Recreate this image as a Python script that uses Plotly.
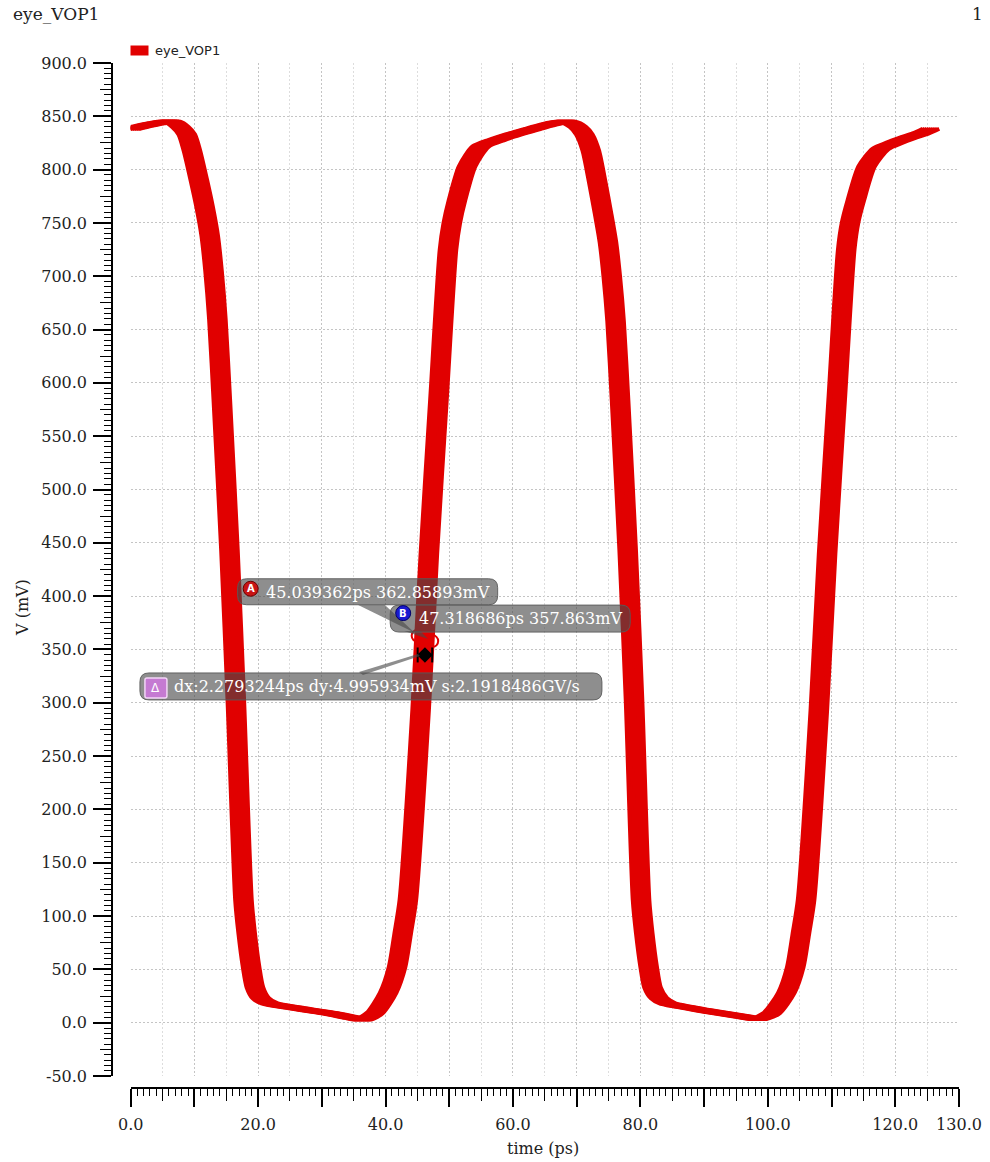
import plotly.graph_objects as go

# ---------------------------------------------------------------------------
# eye_VOP1 : centre of the overlaid eye traces (time in ps, voltage in mV)
# ---------------------------------------------------------------------------
time_ps = [
    0.0, 2.0, 4.0, 6.5, 7.8, 8.8, 9.6, 10.7, 11.6, 12.4, 13.0, 13.6, 14.3,
    15.5, 16.5, 17.7, 18.2, 18.9, 19.5, 20.4, 21.8, 26.1, 31.3, 34.9, 36.5,
    38.3, 40.4, 41.8, 42.7, 43.5, 45.5, 46.8, 48.3, 49.8, 50.4, 51.2, 52.8,
    54.9, 57.5, 60.1, 63.0, 65.4, 68.5, 70.2, 71.2, 72.2, 73.2, 74.1, 74.9,
    75.5, 76.1, 76.8, 78.0, 79.0, 80.1, 80.6, 81.3, 81.9, 82.9, 84.3, 85.8,
    91.0, 96.2, 98.5, 100.6, 102.9, 104.3, 105.2, 106.0, 108.0, 109.3, 110.8,
    112.3, 112.9, 113.8, 115.5, 117.7, 119.8, 121.9, 124.0, 125.6,
]
vop1_mv = [
    838, 841, 843.5, 845, 840, 833, 818, 790, 765, 738, 705, 660, 584,
    443, 302, 115, 84, 52, 33, 23, 18, 13.5, 8.8, 4.5, 3,
    9, 28, 52, 84, 115, 293, 440, 584, 725, 750, 771, 803,
    821.6, 828, 833, 838, 842, 845, 840, 833, 818, 789, 760, 732,
    700, 658, 584, 443, 302, 115, 84, 52, 33, 23, 18, 16,
    10.5, 5.5, 3.5, 9, 28, 52, 84, 115, 293, 440, 584,
    725, 750, 771, 803, 819.5, 825, 829.7, 834, 838.4,
]
# timing offsets of the individual overlaid traces (ps)
jitter_ps = [-1.3, -0.975, -0.65, -0.325, 0.0, 0.325, 0.65, 0.975, 1.3]

# axis ticks
x_tick_vals = [0, 10, 20, 30, 40, 50, 60, 70, 80, 90, 100, 110, 120, 130]
x_tick_text = ["0.0", "", "20.0", "", "40.0", "", "60.0", "", "80.0", "",
               "100.0", "", "120.0", "130.0"]
x_mid_ticks = [5, 15, 25, 35, 45, 55, 65, 75, 85, 95, 105, 115, 125]
y_tick_vals = [-50, 0, 50, 100, 150, 200, 250, 300, 350, 400, 450, 500,
               550, 600, 650, 700, 750, 800, 850, 900]
y_tick_text = ["-50.0", "0.0", "50.0", "100.0", "150.0", "200.0", "250.0",
               "300.0", "350.0", "400.0", "450.0", "500.0", "550.0", "600.0",
               "650.0", "700.0", "750.0", "800.0", "850.0", "900.0"]
y_mid_ticks = [-25, 25, 75, 125, 175, 225, 275, 325, 375, 425, 475, 525,
               575, 625, 675, 725, 775, 825, 875]

# cursors A / B and their delta readout
cursor_a = (45.039362, 362.85893)
cursor_b = (47.318686, 357.863)
delta_dx_ps = "2.2793244"
delta_dy_mv = "4.995934"
delta_slope = "2.1918486"

# ---------------------------------------------------------------------------
W, H = 990, 1162
ML, MR, MT, MB = 90, 20, 40, 60
PW, PH = W - ML - MR, H - MT - MB
RED = "#e10000"
SERIF = "DejaVu Serif"
SANS = "DejaVu Sans"


def fx(px):
    return (px - ML) / PW


def fy(py):
    return (H - MB - py) / PH


x_domain = [fx(130.7), fx(959.0)]
y_domain = [fy(1076.0), fy(63.0)]

fig = go.Figure()

for dt in jitter_ps:
    fig.add_trace(go.Scatter(
        x=[t + dt for t in time_ps], y=vop1_mv, mode="lines",
        line=dict(color=RED, width=4, shape="spline", smoothing=0.7),
        showlegend=False, hoverinfo="skip",
    ))

# keeps the overlay axes (mid-length ticks) alive
fig.add_trace(go.Scatter(x=[None], y=[None], xaxis="x2", yaxis="y2",
                         showlegend=False, hoverinfo="skip"))

# cursor markers
xa, ya = cursor_a
xb, yb = cursor_b
fig.add_trace(go.Scatter(
    x=[xa, xb], y=[ya, yb], mode="markers",
    marker=dict(symbol="circle-open", size=12, color=RED, line=dict(width=2)),
    showlegend=False, hoverinfo="skip",
))
xd = (xa + xb) / 2
yd = min(ya, yb) - 13
fig.add_trace(go.Scatter(
    x=[xa, xa, None, xb, xb, None, xa, xb],
    y=[yd - 7, yd + 7, None, yd - 7, yd + 7, None, yd, yd],
    mode="lines", line=dict(color="black", width=2),
    showlegend=False, hoverinfo="skip",
))
fig.add_trace(go.Scatter(
    x=[xd], y=[yd], mode="markers",
    marker=dict(symbol="diamond", size=12, color="black"),
    showlegend=False, hoverinfo="skip",
))

tick_font = dict(family=SERIF, size=16, color="#222")
grid_dash = "2px,2px"

# automargin is off everywhere: the end label "130.0" must not widen the margins
fig.update_layout(
    width=W, height=H, autosize=False, margin=dict(l=ML, r=MR, t=MT, b=MB),
    paper_bgcolor="white", plot_bgcolor="white", showlegend=False,
    xaxis=dict(
        domain=x_domain, range=[0, 130], anchor="free", position=fy(1088),
        automargin=False,
        tickmode="array", tickvals=x_tick_vals, ticktext=x_tick_text,
        ticks="outside", ticklen=18, tickwidth=1.5, tickcolor="black",
        ticklabelstandoff=4,
        showline=True, linecolor="black", linewidth=1.5,
        showgrid=True, gridcolor="#c4c4c4", gridwidth=1, griddash=grid_dash,
        zeroline=False, tickfont=tick_font,
        minor=dict(tickmode="linear", tick0=0, dtick=1, ticks="outside",
                   ticklen=7, tickwidth=1, tickcolor="black", showgrid=False),
    ),
    xaxis2=dict(
        overlaying="x", range=[0, 130], anchor="free", position=fy(1088),
        automargin=False,
        tickmode="array", tickvals=x_mid_ticks, ticks="outside", ticklen=12,
        tickwidth=1.2, tickcolor="black", showticklabels=False,
        showline=False, showgrid=True, gridcolor="#dddddd", gridwidth=1,
        griddash=grid_dash, zeroline=False,
    ),
    yaxis=dict(
        domain=y_domain, range=[-50, 900], anchor="free", position=fx(112),
        automargin=False,
        tickmode="array", tickvals=y_tick_vals, ticktext=y_tick_text,
        ticks="outside", ticklen=18, tickwidth=1.5, tickcolor="black",
        ticklabelstandoff=3,
        showline=True, linecolor="black", linewidth=1.5,
        showgrid=True, gridcolor="#c4c4c4", gridwidth=1, griddash=grid_dash,
        zeroline=False, tickfont=tick_font,
        minor=dict(tickmode="linear", tick0=0, dtick=5, ticks="outside",
                   ticklen=7, tickwidth=1, tickcolor="black", showgrid=False),
    ),
    yaxis2=dict(
        overlaying="y", range=[-50, 900], anchor="free", position=fx(112),
        automargin=False,
        tickmode="array", tickvals=y_mid_ticks, ticks="outside", ticklen=12,
        tickwidth=1.2, tickcolor="black", showticklabels=False,
        showline=False, showgrid=False, zeroline=False,
    ),
)

annotations = []
shapes = []

# window title / page number
annotations.append(dict(text="eye_VOP1", xref="paper", yref="paper",
                        x=fx(11), y=fy(14), xanchor="left", yanchor="middle",
                        showarrow=False, font=dict(family=SERIF, size=17, color="#222")))
annotations.append(dict(text="1", xref="paper", yref="paper",
                        x=fx(985), y=fy(14), xanchor="right", yanchor="middle",
                        showarrow=False, font=dict(family=SERIF, size=17, color="#222")))
# axis titles
annotations.append(dict(text="time (ps)", xref="paper", yref="paper",
                        x=fx(543), y=fy(1148), xanchor="center", yanchor="middle",
                        showarrow=False, font=dict(family=SERIF, size=16, color="#222")))
annotations.append(dict(text="V (mV)", xref="paper", yref="paper",
                        x=fx(22), y=fy(608), xanchor="center", yanchor="middle",
                        textangle=-90, showarrow=False,
                        font=dict(family=SERIF, size=16, color="#222")))
# legend
shapes.append(dict(type="rect", xref="paper", yref="paper",
                   x0=fx(130.5), x1=fx(148.5), y0=fy(55.5), y1=fy(45.5),
                   fillcolor=RED, line=dict(width=0)))
annotations.append(dict(text="eye_VOP1", xref="paper", yref="paper",
                        x=fx(153), y=fy(50.5), xanchor="left", yanchor="middle",
                        showarrow=False, font=dict(family=SANS, size=13, color="#222")))


def rrect(x0, yb, x1, yt, r):
    return (f"M {x0 + r},{yb} L {x1 - r},{yb} Q {x1},{yb} {x1},{yb + r} "
            f"L {x1},{yt - r} Q {x1},{yt} {x1 - r},{yt} L {x0 + r},{yt} "
            f"Q {x0},{yt} {x0},{yt - r} L {x0},{yb + r} Q {x0},{yb} {x0 + r},{yb} Z")


BOX_FILL = "rgba(72,72,72,0.62)"
BOX_LINE = "rgba(90,90,90,0.9)"


def pix_shape(ax, ay, path, fill, line_color=None, line_width=0):
    return dict(type="path", xref="x", yref="y", xsizemode="pixel",
                ysizemode="pixel", xanchor=ax, yanchor=ay, path=path,
                fillcolor=fill, layer="above",
                line=dict(color=line_color or fill, width=line_width))


def pix_text(ax, ay, dx, dy, text, size=16, anchor="left", family=SERIF,
             color="white"):
    return dict(text=text, xref="x", yref="y", x=ax, y=ay, xshift=dx, yshift=dy,
                xanchor=anchor, yanchor="middle", showarrow=False,
                font=dict(family=family, size=size, color=color))


def pix_circle(ax, ay, cx, cy, r, fill, edge):
    return dict(type="circle", xref="x", yref="y", xsizemode="pixel",
                ysizemode="pixel", xanchor=ax, yanchor=ay,
                x0=cx - r, x1=cx + r, y0=cy - r, y1=cy + r,
                fillcolor=fill, line=dict(color=edge, width=1), layer="above")


# cursor A readout
shapes.append(pix_shape(xa, ya, "M -60,31 L -33,31 L -3,3 Z", BOX_FILL))
shapes.append(pix_shape(xa, ya, rrect(-180, 31, 80, 57, 9), BOX_FILL, BOX_LINE, 1))
shapes.append(pix_circle(xa, ya, -167, 47, 7.5, "#c81414", "#6a0000"))
annotations.append(pix_text(xa, ya, -167, 47, "<b>A</b>", size=10, anchor="center",
                            family=SANS))
annotations.append(pix_text(xa, ya, -154, 43, f"{xa}ps {ya}mV"))

# cursor B readout
shapes.append(pix_shape(xb, yb, "M -28,10 L -12,10 L -4,2 Z", BOX_FILL))
shapes.append(pix_shape(xb, yb, rrect(-42, 9, 198, 36, 9), BOX_FILL, BOX_LINE, 1))
shapes.append(pix_circle(xb, yb, -29, 28, 7.5, "#1a1ad0", "#00006a"))
annotations.append(pix_text(xb, yb, -29, 28, "<b>B</b>", size=10, anchor="center",
                            family=SANS))
annotations.append(pix_text(xb, yb, -15, 23, f"{xb}ps {yb}mV"))

# delta readout
shapes.append(pix_shape(xd, yd, "M -66,-17 L -62,-20 L -5,-1 L -7,1 Z", BOX_FILL))
shapes.append(pix_shape(xd, yd, rrect(-285, -45, 177, -18, 9), BOX_FILL, BOX_LINE, 1))
shapes.append(pix_shape(xd, yd, rrect(-280, -43, -258, -23, 2), "#c57ad2",
                        "#f3d6f7", 1.5))
annotations.append(pix_text(xd, yd, -269, -33, "Δ", size=12, anchor="center",
                            family=SANS))
annotations.append(pix_text(
    xd, yd, -253, -32,
    f"dx:{delta_dx_ps}ps dy:{delta_dy_mv}mV s:{delta_slope}GV/s"))

fig.update_layout(annotations=annotations, shapes=shapes)
fig.write_html("out.html")
